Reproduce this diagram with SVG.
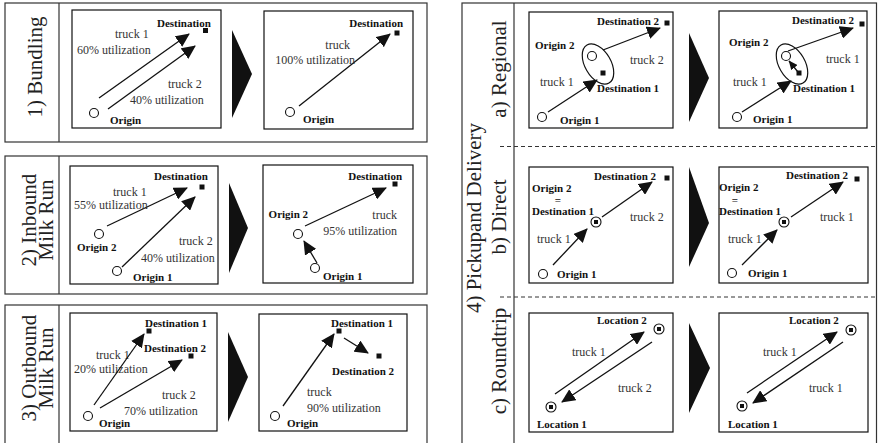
<svg xmlns="http://www.w3.org/2000/svg" width="879" height="443" viewBox="0 0 879 443">
  <style>
    .frame { fill: none; stroke: #333; stroke-width: 1.2; }
    .box { fill: none; stroke: #111; stroke-width: 1.2; }
    .lbl { font-family: "Liberation Serif", "Times New Roman", serif; font-size: 21px; fill: #222; text-anchor: middle; }
    .b { font-family: "Liberation Serif", "Times New Roman", serif; font-size: 11px; font-weight: bold; fill: #111; }
    .t { font-family: "Liberation Serif", "Times New Roman", serif; font-size: 12px; fill: #333; }
    .end { text-anchor: end; }
    .mid { text-anchor: middle; }
    .site { fill: #fff; stroke: #111; stroke-width: 1.1; }
    .dst { fill: #111; }
    .arr { stroke: #111; stroke-width: 1.3; fill: none; marker-end: url(#head); }
    .arrS { stroke: #111; stroke-width: 1.3; fill: none; marker-end: url(#headS); }
    .chev { fill: #111; }
    .dash { stroke: #333; stroke-width: 1; stroke-dasharray: 4 3; fill: none; }
  </style>
  <defs>
    <marker id="head" markerUnits="userSpaceOnUse" markerWidth="14" markerHeight="13" viewBox="0 0 14 13" refX="13" refY="6.5" orient="auto">
      <path d="M0,0 L14,6.5 L0,13 z" fill="#111"/>
    </marker>
    <marker id="headS" markerUnits="userSpaceOnUse" markerWidth="9" markerHeight="8" viewBox="0 0 9 8" refX="8.5" refY="4" orient="auto">
      <path d="M0,0 L9,4 L0,8 z" fill="#111"/>
    </marker>
  </defs>

  <rect width="879" height="443" fill="#fff"/>

  <!-- 1) Bundling -->
  <g id="bundling">
    <rect class="frame" x="5" y="3" width="422" height="139"/>
    <line class="frame" x1="59" y1="3" x2="59" y2="142"/>
    <text class="lbl" transform="translate(0,67) rotate(-90)" x="0" y="42">1) Bundling</text>

    <g id="bundling-before">
      <rect class="box" x="72" y="10" width="149" height="118"/>
      <g id="b1-dest"><rect class="dst" x="203" y="28" width="5" height="5"/><text class="b" x="157" y="27">Destination</text></g>
      <g id="b1-orig"><circle class="site" cx="94" cy="113" r="4.5"/><text class="b" x="110" y="124">Origin</text></g>
      <g id="b1-conn">
        <line class="arr" x1="99" y1="98" x2="189" y2="34"/>
        <line class="arr" x1="108" y1="109" x2="195" y2="46"/>
      </g>
      <text class="t" x="115" y="37.5">truck 1</text>
      <text class="t" x="77" y="53.5">60% utilization</text>
      <text class="t" x="168" y="88">truck 2</text>
      <text class="t" x="130" y="103.5">40% utilization</text>
    </g>

    <polygon class="chev" points="232,30 252,74 232,118"/>

    <g id="bundling-after">
      <rect class="box" x="264" y="11" width="149" height="118"/>
      <g id="b2-dest"><rect class="dst" x="394.5" y="30.5" width="5" height="5"/><text class="b end" x="403" y="27">Destination</text></g>
      <g id="b2-orig"><circle class="site" cx="290" cy="112" r="4.5"/><text class="b" x="303" y="123">Origin</text></g>
      <g id="b2-conn"><line class="arr" x1="299" y1="106" x2="390" y2="34"/></g>
      <text class="t end" x="350" y="48.5">truck</text>
      <text class="t end" x="355" y="64">100% utilization</text>
    </g>
  </g>

  <!-- 2) Inbound Milk Run -->
  <g id="inbound">
    <rect class="frame" x="5" y="156" width="422" height="138"/>
    <line class="frame" x1="59" y1="156" x2="59" y2="294"/>
    <text class="lbl" transform="translate(0,220) rotate(-90)" x="0" y="36">2) Inbound</text>
    <text class="lbl" transform="translate(0,220) rotate(-90)" x="0" y="53">Milk Run</text>

    <g id="inbound-before">
      <rect class="box" x="70" y="166" width="148" height="118"/>
      <g id="i1-dest"><rect class="dst" x="199.5" y="184.5" width="5" height="5"/><text class="b" x="154" y="180">Destination</text></g>
      <g id="i1-orig2"><circle class="site" cx="99" cy="234" r="4.5"/><text class="b" x="77" y="251">Origin 2</text></g>
      <g id="i1-orig1"><circle class="site" cx="117" cy="271" r="4.5"/><text class="b" x="133" y="281">Origin 1</text></g>
      <g id="i1-conn">
        <line class="arr" x1="107" y1="226" x2="187" y2="188"/>
        <line class="arr" x1="122" y1="267" x2="195" y2="197"/>
      </g>
      <text class="t" x="113" y="196">truck 1</text>
      <text class="t" x="74" y="209">55% utilization</text>
      <text class="t" x="179" y="245">truck 2</text>
      <text class="t" x="141" y="262">40% utilization</text>
    </g>

    <polygon class="chev" points="229,183 248,228 229,273"/>

    <g id="inbound-after">
      <rect class="box" x="263" y="165" width="150" height="118"/>
      <g id="i2-dest"><rect class="dst" x="392.5" y="181.5" width="5" height="5"/><text class="b end" x="402" y="180">Destination</text></g>
      <g id="i2-orig2"><circle class="site" cx="298" cy="234" r="4.5"/><text class="b end" x="308" y="218">Origin 2</text></g>
      <g id="i2-orig1"><circle class="site" cx="315" cy="268" r="4.5"/><text class="b" x="323" y="280">Origin 1</text></g>
      <g id="i2-conn">
        <line class="arr" x1="305" y1="226" x2="386" y2="188"/>
        <line class="arr" x1="317" y1="263" x2="304" y2="241"/>
      </g>
      <text class="t end" x="397" y="219">truck</text>
      <text class="t end" x="397" y="235">95% utilization</text>
    </g>
  </g>

  <!-- 3) Outbound Milk Run -->
  <g id="outbound">
    <rect class="frame" x="5" y="305" width="422" height="150"/>
    <line class="frame" x1="59" y1="305" x2="59" y2="443"/>
    <text class="lbl" transform="translate(0,368) rotate(-90)" x="0" y="36">3) Outbound</text>
    <text class="lbl" transform="translate(0,368) rotate(-90)" x="0" y="53">Milk Run</text>

    <g id="outbound-before">
      <rect class="box" x="70" y="313" width="147" height="118"/>
      <g id="o1-dest1"><rect class="dst" x="146.5" y="328.5" width="5" height="5"/><text class="b" x="145" y="327">Destination 1</text></g>
      <g id="o1-dest2"><rect class="dst" x="188.5" y="353.5" width="5" height="5"/><text class="b" x="144" y="352">Destination 2</text></g>
      <g id="o1-orig"><circle class="site" cx="88" cy="416" r="4.5"/><text class="b" x="99" y="427">Origin</text></g>
      <text class="t" x="96" y="359">truck 1</text>
      <text class="t" x="74" y="373">20% utilization</text>
      <text class="t" x="162" y="399">truck 2</text>
      <text class="t" x="124" y="415">70% utilization</text>
      <g id="o1-conn">
        <line class="arr" x1="94" y1="405" x2="144" y2="334"/>
        <line class="arr" x1="100" y1="408" x2="182" y2="360"/>
      </g>
    </g>

    <polygon class="chev" points="228,332 248,377 228,422"/>

    <g id="outbound-after">
      <rect class="box" x="259" y="314" width="148" height="117"/>
      <g id="o2-dest1"><rect class="dst" x="336.5" y="328.5" width="5" height="5"/><text class="b" x="331" y="327">Destination 1</text></g>
      <g id="o2-dest2"><rect class="dst" x="376.5" y="353.5" width="5" height="5"/><text class="b" x="332" y="375">Destination 2</text></g>
      <g id="o2-orig"><circle class="site" cx="275" cy="416" r="4.5"/><text class="b" x="287" y="427">Origin</text></g>
      <g id="o2-conn">
        <line class="arr" x1="283" y1="406" x2="334" y2="334"/>
        <line class="arr" x1="344" y1="338" x2="368" y2="353"/>
      </g>
      <text class="t" x="307" y="396">truck</text>
      <text class="t" x="307" y="412">90% utilization</text>
    </g>
  </g>

  <!-- 4) Pickup and Delivery -->
  <g id="pickup-delivery">
    <rect class="frame" x="462" y="3" width="414.5" height="460"/>
    <line class="frame" x1="514" y1="3" x2="514" y2="443"/>
    <line class="dash" x1="500" y1="146.5" x2="877" y2="146.5"/>
    <line class="dash" x1="500" y1="297" x2="877" y2="297"/>
    <text class="lbl" transform="translate(0,218) rotate(-90)" x="0" y="481">4) Pickupand Delivery</text>
    <text class="lbl" transform="translate(0,69) rotate(-90)" x="0" y="506">a) Regional</text>
    <text class="lbl" transform="translate(0,217) rotate(-90)" x="0" y="506">b) Direct</text>
    <text class="lbl" transform="translate(0,361) rotate(-90)" x="0" y="506">c) Roundtrip</text>

    <!-- a) Regional -->
    <g id="regional-before">
      <rect class="box" x="529" y="12" width="144" height="116"/>
      <ellipse class="box" cx="598" cy="64" rx="13" ry="22" transform="rotate(-30 598 64)"/>
      <g id="r1-dest2"><rect class="dst" x="664.5" y="20.5" width="5" height="5"/><text class="b" x="597" y="25">Destination 2</text></g>
      <g id="r1-orig2"><circle class="site" cx="592" cy="56" r="4.5"/><text class="b" x="535" y="49">Origin 2</text></g>
      <g id="r1-dest1"><rect class="dst" x="600.5" y="70.5" width="5" height="5"/><text class="b" x="597" y="92">Destination 1</text></g>
      <g id="r1-orig1"><circle class="site" cx="542" cy="117" r="4.5"/><text class="b" x="560" y="124">Origin 1</text></g>
      <g id="r1-conn">
        <line class="arr" x1="548" y1="112" x2="597" y2="80"/>
        <line class="arr" x1="603" y1="50" x2="660" y2="28"/>
      </g>
      <text class="t" x="540" y="86">truck 1</text>
      <text class="t" x="630" y="64">truck 2</text>
    </g>

    <polygon class="chev" points="689,33 709,78 689,122"/>

    <g id="regional-after">
      <rect class="box" x="719" y="11" width="148" height="117"/>
      <ellipse class="box" cx="792" cy="64" rx="13" ry="22" transform="rotate(-30 792 64)"/>
      <g id="r2-dest2"><rect class="dst" x="859.5" y="21.5" width="5" height="5"/><text class="b" x="792" y="24">Destination 2</text></g>
      <g id="r2-orig2"><circle class="site" cx="786" cy="56" r="4.5"/><text class="b" x="729" y="46">Origin 2</text></g>
      <g id="r2-dest1"><rect class="dst" x="796.5" y="70.5" width="5" height="5"/><text class="b" x="793" y="92">Destination 1</text></g>
      <g id="r2-orig1"><circle class="site" cx="737" cy="117" r="4.5"/><text class="b" x="753" y="123">Origin 1</text></g>
      <g id="r2-conn">
        <line class="arr" x1="742" y1="112" x2="791" y2="81"/>
        <line class="arr" x1="788" y1="51" x2="853" y2="28"/>
        <line class="arrS" x1="798" y1="72" x2="789" y2="61"/>
      </g>
      <text class="t" x="733" y="86">truck 1</text>
      <text class="t" x="826" y="63">truck 1</text>
    </g>

    <!-- b) Direct -->
    <g id="direct-before">
      <rect class="box" x="529" y="167" width="144" height="116"/>
      <g id="d1-dest2"><rect class="dst" x="664.5" y="175.5" width="5" height="5"/><text class="b" x="594" y="180">Destination 2</text></g>
      <g id="d1-hub">
        <circle class="site" cx="596" cy="222" r="5"/><rect class="dst" x="594" y="220" width="4" height="4"/>
        <text class="b" x="532" y="192">Origin 2</text>
        <text class="b mid" x="558" y="204">=</text>
        <text class="b" x="532" y="215">Destination 1</text>
      </g>
      <g id="d1-orig1"><circle class="site" cx="543" cy="274" r="4.5"/><text class="b" x="557" y="278">Origin 1</text></g>
      <g id="d1-conn">
        <line class="arr" x1="553" y1="265" x2="587" y2="229"/>
        <line class="arr" x1="602" y1="217" x2="652" y2="182"/>
      </g>
      <text class="t" x="537" y="243">truck 1</text>
      <text class="t" x="630" y="221">truck 2</text>
    </g>

    <polygon class="chev" points="689,167 709,223 689,267"/>

    <g id="direct-after">
      <rect class="box" x="719" y="167" width="149" height="116"/>
      <g id="d2-dest2"><rect class="dst" x="854.5" y="176.5" width="5" height="5"/><text class="b" x="786" y="179">Destination 2</text></g>
      <g id="d2-hub">
        <circle class="site" cx="784" cy="222" r="5"/><rect class="dst" x="782" y="220" width="4" height="4"/>
        <text class="b" x="719" y="191">Origin 2</text>
        <text class="b mid" x="735" y="204">=</text>
        <text class="b" x="719" y="215">Destination 1</text>
      </g>
      <g id="d2-orig1"><circle class="site" cx="732" cy="273" r="4.5"/><text class="b" x="748" y="277">Origin 1</text></g>
      <g id="d2-conn">
        <line class="arr" x1="742" y1="265" x2="777" y2="230"/>
        <line class="arr" x1="791" y1="217" x2="843" y2="182"/>
      </g>
      <text class="t" x="728" y="243">truck 1</text>
      <text class="t" x="820" y="221">truck 1</text>
    </g>

    <!-- c) Roundtrip -->
    <g id="roundtrip-before">
      <rect class="box" x="529" y="313" width="144" height="119"/>
      <g id="t1-loc2"><circle class="site" cx="659" cy="329" r="5"/><rect class="dst" x="657" y="327" width="4" height="4"/><text class="b" x="597" y="324">Location 2</text></g>
      <g id="t1-loc1"><circle class="site" cx="551" cy="407" r="5"/><rect class="dst" x="549" y="405" width="4" height="4"/><text class="b" x="537" y="428">Location 1</text></g>
      <g id="t1-conn">
        <line class="arr" x1="555" y1="394" x2="644" y2="332"/>
        <line class="arr" x1="652" y1="342" x2="562" y2="402"/>
      </g>
      <text class="t" x="572" y="356">truck 1</text>
      <text class="t" x="618" y="392">truck 2</text>
    </g>

    <polygon class="chev" points="689,323 710,368 689,413"/>

    <g id="roundtrip-after">
      <rect class="box" x="719" y="313" width="149" height="119"/>
      <g id="t2-loc2"><circle class="site" cx="851" cy="330" r="5"/><rect class="dst" x="849" y="328" width="4" height="4"/><text class="b" x="789" y="324">Location 2</text></g>
      <g id="t2-loc1"><circle class="site" cx="742" cy="406" r="5"/><rect class="dst" x="740" y="404" width="4" height="4"/><text class="b" x="728" y="428">Location 1</text></g>
      <g id="t2-conn">
        <line class="arr" x1="747" y1="393" x2="837" y2="332"/>
        <line class="arr" x1="843" y1="342" x2="753" y2="403"/>
      </g>
      <text class="t" x="763" y="356">truck 1</text>
      <text class="t" x="809" y="392">truck 1</text>
    </g>
  </g>
</svg>
